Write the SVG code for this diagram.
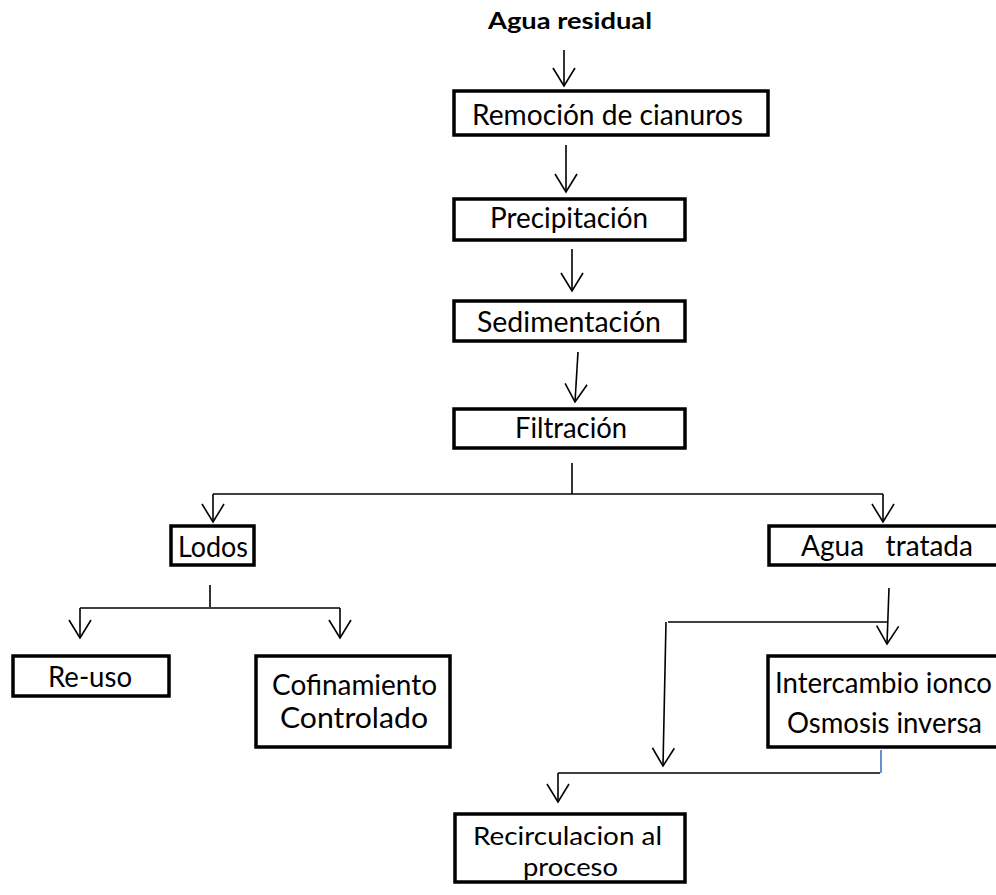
<svg xmlns="http://www.w3.org/2000/svg" width="996" height="895" viewBox="0 0 996 895">
  <style>
    .box { fill: #ffffff; stroke: #000000; stroke-width: 3.5; }
    .lbl { font-family: Lato, "Liberation Sans", sans-serif; font-size: 28px; fill: #000000; }
    .sm { font-size: 25px; }
    .title { font-family: Lato, "Liberation Sans", sans-serif; font-size: 22px; font-weight: bold; fill: #000000; }
    .mid { text-anchor: middle; }
    .ln { fill: none; stroke: #000000; stroke-width: 1.6; }
    .arr { marker-end: url(#vhead); }
  </style>
  <defs>
    <!-- open V arrowhead -->
    <marker id="vhead" markerUnits="userSpaceOnUse" viewBox="-20 -13 22 26" refX="0" refY="0" markerWidth="22" markerHeight="26" orient="auto" overflow="visible">
      <path d="M-18,-11 L0,0 L-18,11" fill="none" stroke="#000000" stroke-width="1.6"/>
    </marker>
  </defs>
  <rect width="996" height="895" fill="#ffffff"/>

  <!-- process boxes -->
  <g id="agua-residual">
    <text class="title mid" x="570" y="29" textLength="164" lengthAdjust="spacingAndGlyphs">Agua residual</text>
  </g>
  <g id="remocion">
    <rect class="box" x="454" y="91" width="314" height="44"/>
    <text class="lbl mid" x="607.5" y="125" textLength="271" lengthAdjust="spacingAndGlyphs">Remoción de cianuros</text>
  </g>
  <g id="precipitacion">
    <rect class="box" x="454" y="199" width="231" height="41"/>
    <text class="lbl mid" x="569" y="228" textLength="158" lengthAdjust="spacingAndGlyphs">Precipitación</text>
  </g>
  <g id="sedimentacion">
    <rect class="box" x="454" y="301" width="231" height="40"/>
    <text class="lbl mid" x="569" y="332" textLength="184" lengthAdjust="spacingAndGlyphs">Sedimentación</text>
  </g>
  <g id="filtracion">
    <rect class="box" x="454" y="409" width="231" height="39"/>
    <text class="lbl mid" x="571" y="438" textLength="112" lengthAdjust="spacingAndGlyphs">Filtración</text>
  </g>
  <g id="lodos">
    <rect class="box" x="171" y="526" width="83" height="39"/>
    <text class="lbl mid" x="213" y="557" textLength="70" lengthAdjust="spacingAndGlyphs">Lodos</text>
  </g>
  <g id="agua-tratada">
    <rect class="box" x="769" y="526" width="240" height="39"/>
    <text class="lbl" x="801" y="556" xml:space="preserve" textLength="172" lengthAdjust="spacingAndGlyphs">Agua   tratada</text>
  </g>
  <g id="re-uso">
    <rect class="box" x="13" y="656" width="156" height="40"/>
    <text class="lbl mid" x="90" y="687" textLength="84" lengthAdjust="spacingAndGlyphs">Re-uso</text>
  </g>
  <g id="confinamiento">
    <rect class="box" x="256" y="656" width="194" height="91"/>
    <text class="lbl mid" x="354.5" y="695" textLength="165" lengthAdjust="spacingAndGlyphs">Cofinamiento</text>
    <text class="lbl mid" x="354" y="728" textLength="148" lengthAdjust="spacingAndGlyphs">Controlado</text>
  </g>
  <g id="intercambio">
    <rect class="box" x="768" y="656" width="240" height="91"/>
    <text class="lbl" x="775" y="693" textLength="217" lengthAdjust="spacingAndGlyphs">Intercambio ionco</text>
    <text class="lbl" x="787" y="733" textLength="195" lengthAdjust="spacingAndGlyphs">Osmosis inversa</text>
  </g>
  <g id="recirculacion">
    <rect class="box" x="455" y="814" width="230" height="68"/>
    <text class="lbl sm mid" x="567.5" y="845" textLength="189" lengthAdjust="spacingAndGlyphs">Recirculacion al</text>
    <text class="lbl sm mid" x="570.5" y="876" textLength="95" lengthAdjust="spacingAndGlyphs">proceso</text>
  </g>

  <!-- connectors -->
  <g id="connectors">
    <path class="ln arr" d="M564,50 L564,86"/>
    <path class="ln arr" d="M566,145 L566,192"/>
    <path class="ln arr" d="M572,249 L572,291"/>
    <path class="ln arr" d="M578,352 L575,402"/>

    <path class="ln" d="M572,463 L572,494"/>
    <path class="ln" d="M213,494 L883,494"/>
    <path class="ln arr" d="M213,494 L213,522"/>
    <path class="ln arr" d="M883,494 L883,522"/>

    <path class="ln" d="M210,585 L210,607"/>
    <path class="ln" d="M80,608 L340,608"/>
    <path class="ln arr" d="M80,608 L80,638"/>
    <path class="ln arr" d="M340,608 L340,638"/>

    <path class="ln arr" d="M889,588 L887,644"/>
    <path class="ln" d="M668,622 L887,622"/>
    <path class="ln arr" d="M666,622 L663,766"/>

    <path d="M881,750 L881,773" fill="none" stroke="#4472c4" stroke-width="1.6"/>
    <path class="ln" d="M558,773 L880,773"/>
    <path class="ln arr" d="M558,773 L558,802"/>
  </g>
</svg>
